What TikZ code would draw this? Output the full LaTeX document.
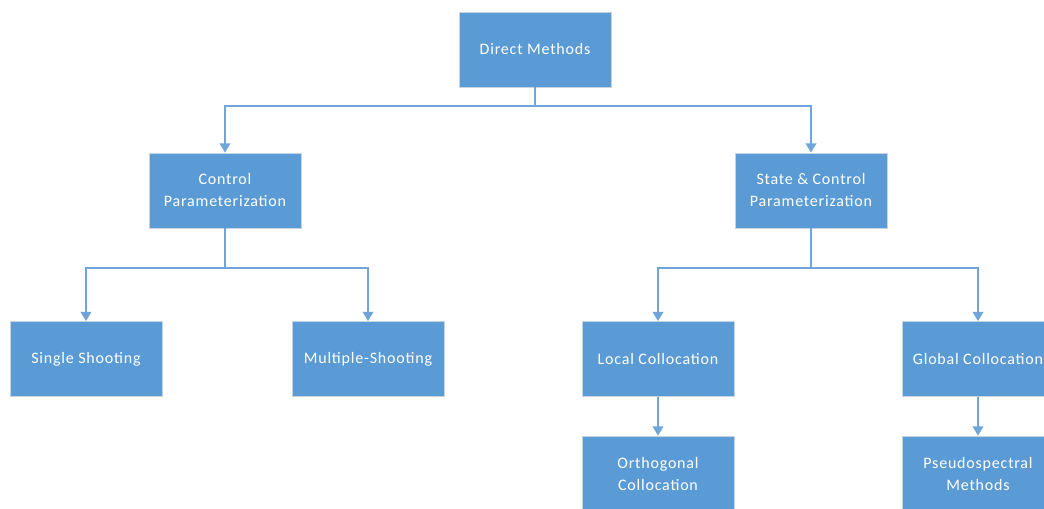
\documentclass[tikz,border=0pt]{standalone}
\usepackage{fontspec}
\setmainfont{Carlito}[LetterSpace=5]
\usetikzlibrary{arrows.meta}
\definecolor{boxblue}{HTML}{5B9BD5}
\definecolor{linkblue}{HTML}{6FA5D9}
\definecolor{boxedge}{HTML}{C9D3DC}
\begin{document}
\begin{tikzpicture}[x=0.75pt,y=-0.75pt,
  box/.style={fill=boxblue,draw=boxedge,line width=0.6pt,
    minimum width=114pt,minimum height=56.25pt,inner sep=0pt,
    text=white,align=center,font=\fontsize{12}{16.5}\selectfont},
  link/.style={draw=linkblue,line width=1.4pt},
  arr/.style={link,-{Triangle[width=8pt,length=7pt]}}]
\useasboundingbox (0,0) rectangle (1044,509);
\clip (0,0) rectangle (1044,509);
\begin{scope}[every node/.append style={box}]
\node (dm) at (535,49.5) {Direct Methods};
\node (cp) at (225,190.5) {Control\\Parameterization};
\node (sc) at (811,190.5) {State \& Control\\Parameterization};
\node (ss) at (86,359) {Single Shooting};
\node (ms) at (368,359) {Multiple-Shooting};
\node (lc) at (658,359) {Local Collocation};
\node (gc) at (978,359) {Global Collocation};
\node (oc) at (658,473.5) {Orthogonal\\Collocation};
\node (ps) at (978,473.5) {Pseudospectral\\Methods};
\end{scope}
\coordinate (j1) at (535,106);
\coordinate (j2) at (225,268);
\coordinate (j3) at (811,268);
\draw[link] (dm.south) -- (j1);
\draw[arr] (j1) -| (cp.north);
\draw[arr] (j1) -| (sc.north);
\draw[link] (cp.south) -- (j2);
\draw[arr] (j2) -| (ss.north);
\draw[arr] (j2) -| (ms.north);
\draw[link] (sc.south) -- (j3);
\draw[arr] (j3) -| (lc.north);
\draw[arr] (j3) -| (gc.north);
\draw[arr] (lc) -- (oc);
\draw[arr] (gc) -- (ps);
\end{tikzpicture}
\end{document}
